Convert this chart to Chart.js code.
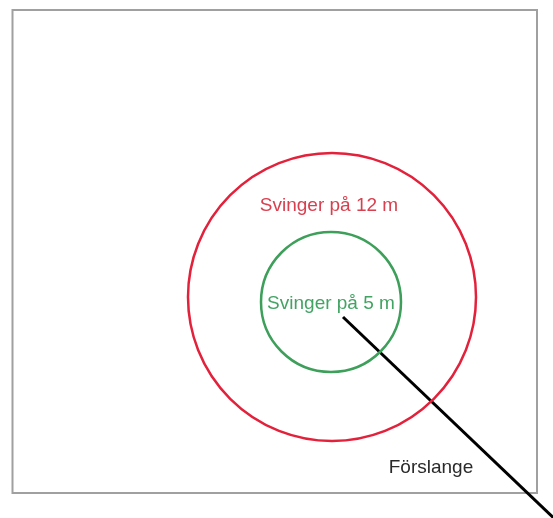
<!DOCTYPE html>
<html lang="sv">
<head>
<meta charset="UTF-8">
<title>Svinger</title>
<script src="https://cdn.jsdelivr.net/npm/chart.js"></script>
<style>
  body { margin: 0; background: #fff; }
  #wrap { width: 553px; height: 518px; }
</style>
</head>
<body>
<div id="wrap"><canvas id="chart"></canvas></div>
<script>
// everything is in picture pixels
const ringNames = ['Svinger på 12 m', 'Svinger på 5 m'];
const ringX = [332, 331];
const ringY = [297, 302];
const ringR = [144, 70];

const hoseX = [343, 560];
const hoseY = [317, 524];

const labelTexts = ['Svinger på 12 m', 'Svinger på 5 m', 'Förslange'];
const labelX = [329, 331, 431];
const labelY = [206, 304, 468];

const frameX = [12.5, 537];
const frameY = [10, 493];

const ringColors = ['#e3213b', '#3d9f5a'];
const labelColors = ['#d8404f', '#42a463', '#2a2a2a'];

const drawings = {
    id: 'drawings',
    beforeDatasetsDraw(chart) {
        const { ctx, scales: { x, y } } = chart;
        const l = x.getPixelForValue(frameX[0]), r = x.getPixelForValue(frameX[1]);
        const t = y.getPixelForValue(frameY[0]), b = y.getPixelForValue(frameY[1]);
        ctx.save();
        ctx.strokeStyle = '#a0a0a0';
        ctx.lineWidth = 2;
        ctx.strokeRect(l, t, r - l, b - t);
        ctx.restore();
    },
    afterDatasetsDraw(chart) {
        const { ctx, scales: { x, y } } = chart;
        ctx.save();
        ctx.font = '19px "Liberation Sans", Arial, sans-serif';
        ctx.textAlign = 'center';
        ctx.textBaseline = 'middle';
        labelTexts.forEach((txt, i) => {
            ctx.fillStyle = labelColors[i];
            ctx.fillText(txt, x.getPixelForValue(labelX[i]), y.getPixelForValue(labelY[i]));
        });
        ctx.restore();
    }
};

const datasets = ringNames.map((name, i) => ({
    type: 'bubble',
    label: name,
    data: [{ x: ringX[i], y: ringY[i], r: ringR[i] }],
    backgroundColor: 'rgba(0,0,0,0)',
    borderColor: ringColors[i],
    borderWidth: 2.5,
    hoverRadius: 0,
    clip: false
}));

datasets.push({
    type: 'line',
    label: 'Förslange',
    data: hoseX.map((v, i) => ({ x: v, y: hoseY[i] })),
    borderColor: '#000000',
    borderWidth: 3,
    pointRadius: 0,
    fill: false,
    clip: false
});

new Chart(document.getElementById('chart'), {
    type: 'scatter',
    data: { datasets },
    options: {
        responsive: true,
        maintainAspectRatio: false,
        animation: false,
        events: [],
        layout: { padding: 0, autoPadding: false },
        plugins: { legend: { display: false }, tooltip: { enabled: false } },
        scales: {
            x: { type: 'linear', min: 0, max: 553, display: false },
            y: { type: 'linear', min: 0, max: 518, reverse: true, display: false }
        }
    },
    plugins: [drawings]
});
</script>
</body>
</html>
